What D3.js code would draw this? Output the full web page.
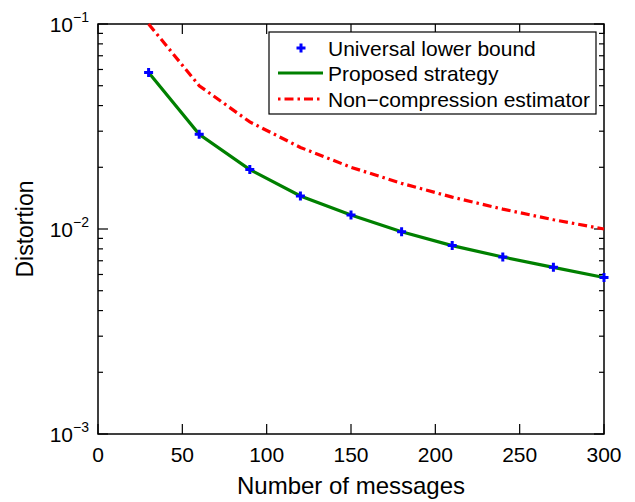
<!DOCTYPE html>
<html>
<head>
<meta charset="utf-8">
<script src="https://cdn.jsdelivr.net/npm/d3@7"></script>
<style>
  body { margin: 0; background: #fff; }
  text { font-family: "Liberation Sans", Arial, sans-serif; fill: #000; }
</style>
</head>
<body>
<div id="chart"></div>
<script>
// data
var messages = [30, 60, 90, 120, 150, 180, 210, 240, 270, 300];
var lowerBound = [0.058, 0.029, 0.0195, 0.0145, 0.0117, 0.0097, 0.0083, 0.0073, 0.0065, 0.0058];
var proposed = [0.058, 0.029, 0.0195, 0.0145, 0.0117, 0.0097, 0.0083, 0.0073, 0.0065, 0.0058];
var nonCompression = [0.1, 0.05, 0.0333, 0.025, 0.02, 0.0167, 0.0143, 0.0125, 0.0111, 0.01];
var xTicks = [0, 50, 100, 150, 200, 250, 300];
var yDecades = [1e-3, 1e-2, 1e-1];
var legendNames = ["Universal lower bound", "Proposed strategy", "Non\u2212compression estimator"];

var W = 635, H = 502;
var margin = { top: 24, right: 31, bottom: 68, left: 98 };
var w = W - margin.left - margin.right;
var h = H - margin.top - margin.bottom;

var svg = d3.select("#chart").append("svg")
  .attr("width", W).attr("height", H);
var g = svg.append("g").attr("transform", "translate(" + margin.left + "," + margin.top + ")");

var x = d3.scaleLinear().domain([0, 300]).range([0, w]);
var y = d3.scaleLog().domain([1e-3, 1e-1]).range([h, 0]);

// minor ticks for log axis
var minor = [];
[1e-3, 1e-2].forEach(function(d) {
  for (var k = 2; k <= 9; k++) minor.push(d * k);
});

// axes, ticks pointing inward
var ax = g.append("g").attr("class", "axes");
ax.append("rect").attr("width", w).attr("height", h)
  .attr("fill", "none").attr("stroke", "#000").attr("stroke-width", 1.5);

xTicks.forEach(function(t) {
  ax.append("line").attr("x1", x(t)).attr("x2", x(t)).attr("y1", h).attr("y2", h - 10)
    .attr("stroke", "#000").attr("stroke-width", 1.2);
  ax.append("line").attr("x1", x(t)).attr("x2", x(t)).attr("y1", 0).attr("y2", 10)
    .attr("stroke", "#000").attr("stroke-width", 1.2);
  g.append("text").attr("x", x(t)).attr("y", h + 28)
    .attr("text-anchor", "middle").style("font-size", "21px").text(t);
});

yDecades.forEach(function(t) {
  ax.append("line").attr("x1", 0).attr("x2", 10).attr("y1", y(t)).attr("y2", y(t))
    .attr("stroke", "#000").attr("stroke-width", 1.2);
  ax.append("line").attr("x1", w).attr("x2", w - 10).attr("y1", y(t)).attr("y2", y(t))
    .attr("stroke", "#000").attr("stroke-width", 1.2);
  var lab = g.append("text").attr("x", -9).attr("y", y(t) + 8)
    .attr("text-anchor", "end").style("font-size", "21px");
  lab.append("tspan").text("10");
  lab.append("tspan").attr("dy", -10).style("font-size", "14px")
    .text("\u2212" + Math.round(-Math.log10(t)));
});

minor.forEach(function(t) {
  ax.append("line").attr("x1", 0).attr("x2", 5).attr("y1", y(t)).attr("y2", y(t))
    .attr("stroke", "#000").attr("stroke-width", 1.2);
  ax.append("line").attr("x1", w).attr("x2", w - 5).attr("y1", y(t)).attr("y2", y(t))
    .attr("stroke", "#000").attr("stroke-width", 1.2);
});

// axis titles
svg.append("text").attr("x", 351).attr("y", 494)
  .attr("text-anchor", "middle").style("font-size", "24px").text("Number of messages");
svg.append("text").attr("transform", "translate(33," + (margin.top + h / 2) + ") rotate(-90)")
  .attr("text-anchor", "middle").style("font-size", "23px").text("Distortion");

// lines
var line = d3.line().x(function(d) { return x(d[0]); }).y(function(d) { return y(d[1]); });
var dash = "9,4,2.5,4";

g.append("path").datum(d3.zip(messages, nonCompression))
  .attr("d", line).attr("fill", "none").attr("stroke", "#ff0000")
  .attr("stroke-width", 3.2).attr("stroke-dasharray", dash);

g.append("path").datum(d3.zip(messages, proposed))
  .attr("d", line).attr("fill", "none").attr("stroke", "#008000")
  .attr("stroke-width", 3.2);

// plus markers
function plus(sel, cx, cy) {
  sel.append("path")
    .attr("d", "M" + (cx - 4.5) + "," + cy + "H" + (cx + 4.5) + "M" + cx + "," + (cy - 4.5) + "V" + (cy + 4.5))
    .attr("stroke", "#0000ff").attr("stroke-width", 3).attr("fill", "none");
}
var mk = g.append("g");
messages.forEach(function(m, i) { plus(mk, x(m), y(lowerBound[i])); });

// legend
var lg = svg.append("g");
lg.append("rect").attr("x", 269).attr("y", 32).attr("width", 327).attr("height", 82)
  .attr("fill", "#fff").attr("stroke", "#000").attr("stroke-width", 1.2);
var rowY = [48, 73, 99];
plus(lg, 301, rowY[0]);
lg.append("line").attr("x1", 278).attr("x2", 323).attr("y1", rowY[1]).attr("y2", rowY[1])
  .attr("stroke", "#008000").attr("stroke-width", 3.2);
lg.append("line").attr("x1", 278).attr("x2", 323).attr("y1", rowY[2]).attr("y2", rowY[2])
  .attr("stroke", "#ff0000").attr("stroke-width", 3.2).attr("stroke-dasharray", "2.5,4,9,4");
legendNames.forEach(function(n, i) {
  lg.append("text").attr("x", 328).attr("y", rowY[i] + 8).style("font-size", "21px").text(n);
});
</script>
</body>
</html>
